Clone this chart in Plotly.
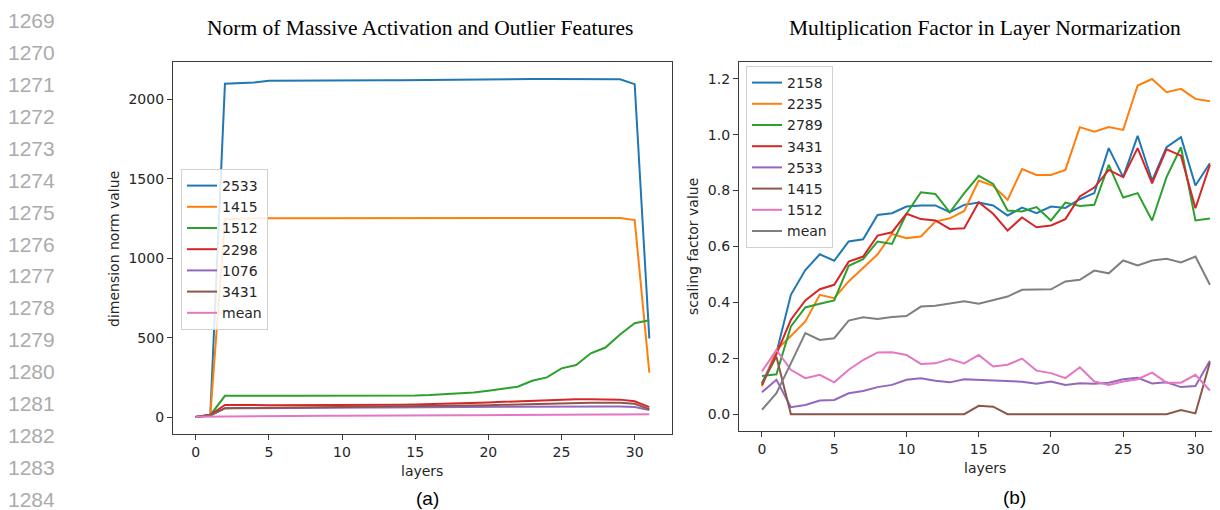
import plotly.graph_objects as go

# ---------------- data ----------------
layers = list(range(32))

# (a) Norm of massive activation and outlier features
a_labels = ["2533", "1415", "1512", "2298", "1076", "3431", "mean"]
a_2533 = [0, 15, 2100, 2105, 2108, 2118, 2119, 2119, 2120, 2120, 2120, 2120, 2121, 2121, 2121, 2122, 2123,
          2128, 2128, 2128, 2129, 2129, 2129, 2130, 2130, 2130, 2130, 2130, 2130, 2128, 2097, 495]
a_1415 = [0, 12, 1248, 1252, 1253, 1253, 1253, 1253, 1253, 1253, 1253, 1253, 1253, 1253, 1253, 1253, 1253,
          1254, 1254, 1254, 1254, 1254, 1254, 1254, 1254, 1254, 1254, 1254, 1254, 1254, 1241, 280]
a_1512 = [0, 12, 134, 135, 135, 135, 134, 134, 134, 134, 133, 133, 133, 133, 134, 136, 139, 144, 149, 155,
          166, 177, 191, 229, 250, 307, 328, 402, 438, 520, 591, 610]
a_2298 = [0, 15, 76, 77, 76, 74, 74, 74, 74, 74, 75, 75, 75, 76, 77, 79, 81, 83, 86, 89, 92, 96, 100, 104,
          107, 110, 112, 113, 113, 110, 100, 63]
a_1076 = [0, 10, 55, 56, 57, 57, 58, 58, 59, 59, 60, 60, 61, 61, 62, 62, 63, 63, 63, 64, 64, 65, 65, 66, 66,
          67, 67, 67, 67, 66, 63, 45]
a_3431 = [0, 12, 56, 57, 57, 57, 58, 58, 59, 59, 60, 61, 62, 63, 64, 65, 66, 68, 70, 72, 74, 77, 80, 83, 86,
          88, 90, 91, 91, 90, 84, 50]
a_mean = [2, 3, 5, 5, 6, 6, 7, 7, 7, 8, 8, 9, 9, 9, 10, 10, 11, 11, 12, 12, 13, 13, 14, 14, 15, 15, 16, 16,
          17, 17, 18, 18]

# (b) Multiplication factor in layer normalization
b_labels = ["2158", "2235", "2789", "3431", "2533", "1415", "1512", "mean"]
b_2158 = [0.11, 0.22, 0.427, 0.516, 0.572, 0.549, 0.618, 0.626, 0.713, 0.719, 0.743, 0.747, 0.747, 0.723,
          0.749, 0.757, 0.747, 0.711, 0.739, 0.719, 0.743, 0.738, 0.769, 0.791, 0.952, 0.848, 0.996, 0.836,
          0.955, 0.991, 0.818, 0.898]
b_2235 = [0.10, 0.23, 0.28, 0.332, 0.427, 0.415, 0.475, 0.522, 0.572, 0.645, 0.630, 0.636, 0.689, 0.701,
          0.727, 0.836, 0.817, 0.767, 0.877, 0.856, 0.856, 0.874, 1.027, 1.011, 1.027, 1.017, 1.176, 1.199,
          1.152, 1.164, 1.128, 1.120]
b_2789 = [0.137, 0.143, 0.314, 0.382, 0.395, 0.407, 0.531, 0.555, 0.618, 0.609, 0.717, 0.794, 0.788, 0.722,
          0.791, 0.853, 0.824, 0.729, 0.725, 0.741, 0.693, 0.757, 0.745, 0.749, 0.892, 0.775, 0.791, 0.693,
          0.848, 0.955, 0.693, 0.700]
b_3431 = [0.105, 0.215, 0.338, 0.407, 0.447, 0.463, 0.546, 0.564, 0.639, 0.651, 0.717, 0.698, 0.693, 0.663,
          0.665, 0.758, 0.717, 0.657, 0.704, 0.669, 0.675, 0.698, 0.779, 0.811, 0.874, 0.848, 0.952, 0.826,
          0.948, 0.925, 0.737, 0.892]
b_2533 = [0.079, 0.123, 0.025, 0.033, 0.049, 0.051, 0.075, 0.083, 0.097, 0.105, 0.123, 0.129, 0.120, 0.114,
          0.125, 0.123, 0.120, 0.118, 0.116, 0.109, 0.117, 0.105, 0.111, 0.109, 0.113, 0.125, 0.130, 0.110,
          0.114, 0.097, 0.101, 0.191]
b_1415 = [0.11, 0.206, 0.0, 0.0, 0.0, 0.0, 0.0, 0.0, 0.0, 0.0, 0.0, 0.0, 0.0, 0.0, 0.0, 0.03, 0.027, 0.0,
          0.0, 0.0, 0.0, 0.0, 0.0, 0.0, 0.0, 0.0, 0.0, 0.0, 0.0, 0.015, 0.003, 0.185]
b_1512 = [0.153, 0.23, 0.159, 0.129, 0.141, 0.114, 0.159, 0.194, 0.221, 0.222, 0.212, 0.180, 0.182, 0.197,
          0.182, 0.212, 0.171, 0.177, 0.199, 0.156, 0.147, 0.129, 0.168, 0.117, 0.105, 0.117, 0.125, 0.149,
          0.113, 0.113, 0.141, 0.085]
b_mean = [0.016, 0.075, 0.182, 0.290, 0.266, 0.272, 0.335, 0.347, 0.341, 0.348, 0.351, 0.385, 0.388, 0.395,
          0.404, 0.395, 0.409, 0.421, 0.445, 0.445, 0.447, 0.475, 0.481, 0.514, 0.504, 0.550, 0.532, 0.550,
          0.556, 0.543, 0.564, 0.463]

a_ticks_x = [0, 5, 10, 15, 20, 25, 30]
a_ticks_y = [0, 500, 1000, 1500, 2000]
b_ticks_y = [0.0, 0.2, 0.4, 0.6, 0.8, 1.0, 1.2]
line_numbers = list(range(1269, 1285))

titles = ["Norm of Massive Activation and Outlier Features", "Multiplication Factor in Layer Normarization"]
captions = ["(a)", "(b)"]

colors = ["#1f77b4", "#ff7f0e", "#2ca02c", "#d62728", "#9467bd", "#8c564b", "#e377c2", "#7f7f7f"]

# ---------------- figure ----------------
# page body has an 8px margin, so the figure is sized to the visible window minus it
OFF = 8
W, H = 1220 - OFF, 510 - OFF
fig = go.Figure()

a_series = [a_2533, a_1415, a_1512, a_2298, a_1076, a_3431, a_mean]
for name, vals, col in zip(a_labels, a_series, colors):
    fig.add_trace(go.Scatter(x=layers, y=vals, mode="lines", name=name,
                             line=dict(color=col, width=2), xaxis="x", yaxis="y", legend="legend"))

b_series = [b_2158, b_2235, b_2789, b_3431, b_2533, b_1415, b_1512, b_mean]
for name, vals, col in zip(b_labels, b_series, colors):
    fig.add_trace(go.Scatter(x=layers, y=vals, mode="lines", name=name,
                             line=dict(color=col, width=2), xaxis="x2", yaxis="y2", legend="legend2"))


def px(x):
    return (x - OFF) / W


def py(y):
    return (H - (y - OFF)) / H


tickfont = dict(family="DejaVu Sans", size=14, color="#262626")
spine = "#3a3a3a"

common_axis = dict(showgrid=False, zeroline=False, showline=True, linecolor=spine, linewidth=1.3,
                   ticks="outside", ticklen=5, tickwidth=1.2, tickcolor=spine, tickfont=tickfont)

fig.update_layout(
    width=W, height=H,
    margin=dict(l=0, r=0, t=0, b=0),
    paper_bgcolor="white", plot_bgcolor="white",
    showlegend=True,
    xaxis=dict(domain=[px(173), px(672)], range=[-1.55, 32.55], tickvals=a_ticks_x,
               mirror=True, anchor="y", **common_axis),
    yaxis=dict(domain=[py(434), py(62)], range=[-106.5, 2236.5], tickvals=a_ticks_y,
               mirror=True, anchor="x", **common_axis),
    xaxis2=dict(domain=[px(739), 1.0], range=[-1.59, 31.7], tickvals=a_ticks_x,
                mirror=True, anchor="y2", **common_axis),
    yaxis2=dict(domain=[py(431), py(62)], range=[-0.06, 1.26], tickvals=b_ticks_y, tickformat=".1f",
                mirror=False, anchor="x2", **common_axis),
    legend=dict(x=px(181), y=py(169), xanchor="left", yanchor="top",
                bgcolor="rgba(255,255,255,0.85)", bordercolor="#d0d0d0", borderwidth=1,
                font=dict(family="DejaVu Sans", size=14, color="#262626"), tracegroupgap=0),
    legend2=dict(x=px(746), y=py(66), xanchor="left", yanchor="top",
                 bgcolor="rgba(255,255,255,0.85)", bordercolor="#d0d0d0", borderwidth=1,
                 font=dict(family="DejaVu Sans", size=14, color="#262626"), tracegroupgap=0),
)

ann = []
# titles
ttl_font = dict(family="Liberation Serif", size=21.5, color="black")
ann.append(dict(text=titles[0], x=px(420), y=py(28), xref="paper", yref="paper", showarrow=False,
                font=ttl_font, xanchor="center", yanchor="middle"))
ann.append(dict(text=titles[1], x=px(985), y=py(28), xref="paper", yref="paper", showarrow=False,
                font=ttl_font, xanchor="center", yanchor="middle"))
# axis labels
lab_font = dict(family="DejaVu Sans", size=14, color="#262626")
ann.append(dict(text="layers", x=px(422), y=py(471), xref="paper", yref="paper", showarrow=False,
                font=lab_font, xanchor="center", yanchor="middle"))
ann.append(dict(text="layers", x=px(985), y=py(468), xref="paper", yref="paper", showarrow=False,
                font=lab_font, xanchor="center", yanchor="middle"))
ann.append(dict(text="dimension norm value", x=px(114), y=py(249), xref="paper", yref="paper", showarrow=False,
                font=lab_font, textangle=-90, xanchor="center", yanchor="middle"))
ann.append(dict(text="scaling factor value", x=px(693), y=py(247), xref="paper", yref="paper", showarrow=False,
                font=lab_font, textangle=-90, xanchor="center", yanchor="middle"))
# captions
cap_font = dict(family="Liberation Sans", size=19, color="black")
ann.append(dict(text=captions[0], x=px(427), y=py(498), xref="paper", yref="paper", showarrow=False,
                font=cap_font, xanchor="center", yanchor="middle"))
ann.append(dict(text=captions[1], x=px(1014), y=py(497), xref="paper", yref="paper", showarrow=False,
                font=cap_font, xanchor="center", yanchor="middle"))
# line numbers
for k, n in enumerate(line_numbers):
    ann.append(dict(text=str(n), x=px(57), y=py(20.7 + 31.9 * k), xref="paper", yref="paper",
                    showarrow=False, font=dict(family="Liberation Sans", size=21, color="#ababab"),
                    xanchor="right", yanchor="middle"))

fig.update_layout(annotations=ann)
fig.write_html("out.html")
